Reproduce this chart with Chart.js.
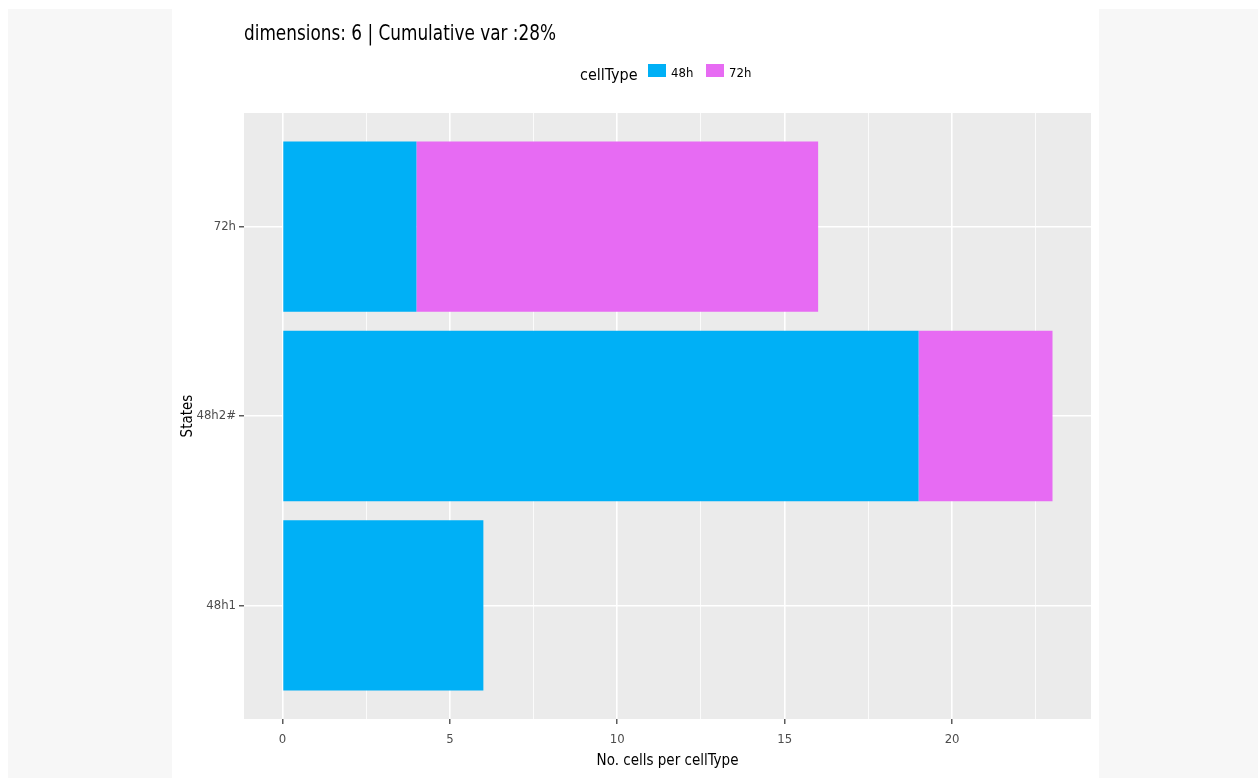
<!DOCTYPE html>
<html>
<head>
<meta charset="utf-8">
<title>dimensions: 6 | Cumulative var :28%</title>
<script src="https://cdn.jsdelivr.net/npm/chart.js@4/dist/chart.umd.min.js"></script>
<style>
  html, body { margin: 0; padding: 0; background: #ffffff; width: 1258px; height: 778px; overflow: hidden; }
  .side { position: absolute; top: 9px; bottom: 0; background: #f7f7f7; }
  #wrap { position: absolute; left: 172px; top: 0; width: 927px; height: 778px; background: #ffffff; }
</style>
</head>
<body>
<div class="side" style="left:8px;width:164px;"></div>
<div class="side" style="left:1099px;width:159px;"></div>
<div id="wrap"><canvas id="chart" width="927" height="778"></canvas></div>
<script>
// States shown on the vertical axis, bottom to top
const categories = ['48h1', '48h2#', '72h'];
// Cell counts per state, split by cell type
const cells48h = [6, 19, 4];
const cells72h = [0, 4, 12];
const seriesNames = ['48h', '72h'];
const seriesColors = ['#00B0F6', '#E76BF3'];
// Labelled ticks on the horizontal axis
const xTickLabels = [0, 5, 10, 15, 20];

const titleText = 'dimensions: 6 | Cumulative var :28%';
const legendTitle = 'cellType';
const FONT = "'Liberation Sans Narrow', 'DejaVu Sans Condensed', 'Liberation Sans', sans-serif";

const toPoints = vals => vals.map((v, i) => ({ x: v, y: i + 1 }));

const total = categories.map((c, i) => cells48h[i] + cells72h[i]);
const maxTotal = Math.max(...total);
const xPad = maxTotal * 0.05;

// Grey panel behind the plotting area
const panelBg = {
  id: 'panelBg',
  beforeDraw(chart) {
    const { ctx, chartArea: a } = chart;
    ctx.save();
    ctx.fillStyle = '#EBEBEB';
    ctx.fillRect(a.left, a.top, a.right - a.left, a.bottom - a.top);
    ctx.restore();
  }
};

// Plot title and the inline legend above the panel
const headings = {
  id: 'headings',
  afterDraw(chart) {
    const { ctx, chartArea: a } = chart;
    ctx.save();
    ctx.fillStyle = '#000000';
    ctx.textBaseline = 'alphabetic';
    ctx.textAlign = 'left';
    ctx.font = '21px ' + FONT;
    ctx.fillText(titleText, a.left, 40, 312);

    // legend: title followed by key boxes
    ctx.font = '16px ' + FONT;
    let x = 408;
    ctx.fillText(legendTitle, x, 80, 58);
    x += 58 + 10;
    ctx.font = '13px ' + FONT;
    chart.data.datasets.forEach(ds => {
      ctx.fillStyle = ds.backgroundColor;
      ctx.fillRect(x, 64, 18, 13);
      x += 18 + 5;
      ctx.fillStyle = '#000000';
      ctx.fillText(ds.label, x, 77, 25);
      x += 25 + 10;
    });
    ctx.restore();
  }
};

const isMajor = v => Math.abs(v % 5) < 1e-9;

new Chart(document.getElementById('chart'), {
  type: 'bar',
  data: {
    datasets: [
      { label: seriesNames[0], data: toPoints(cells48h), backgroundColor: seriesColors[0], borderWidth: 0 },
      { label: seriesNames[1], data: toPoints(cells72h), backgroundColor: seriesColors[1], borderWidth: 0 }
    ]
  },
  options: {
    indexAxis: 'y',
    responsive: false,
    animation: false,
    layout: { padding: { top: 113, right: 8, bottom: 0, left: 0 } },
    datasets: { bar: { barPercentage: 0.9, categoryPercentage: 1.0 } },
    plugins: {
      legend: { display: false },
      title: { display: false },
      tooltip: { enabled: false }
    },
    scales: {
      x: {
        type: 'linear',
        stacked: true,
        min: -xPad,
        max: maxTotal + xPad,
        afterBuildTicks(scale) {
          const t = [];
          for (let v = 0; v <= maxTotal + 1e-9; v += 2.5) t.push({ value: v });
          scale.ticks = t;
        },
        afterFit(scale) { scale.height = 59; },
        border: { display: false },
        grid: {
          color: '#FFFFFF',
          lineWidth: ctx => (isMajor(ctx.tick.value) ? 1.6 : 0.8),
          drawTicks: true,
          tickLength: 5,
          tickColor: ctx => (isMajor(ctx.tick.value) ? '#333333' : 'rgba(0,0,0,0)'),
          tickWidth: 1.2
        },
        ticks: {
          autoSkip: false,
          maxRotation: 0,
          padding: 8,
          color: '#4D4D4D',
          font: { family: FONT, size: 13 },
          callback: v => (xTickLabels.includes(v) ? String(v) : '')
        },
        title: {
          display: true,
          text: 'No. cells per cellType',
          color: '#000000',
          font: { family: FONT, size: 15 },
          padding: { top: 0, bottom: 8 }
        }
      },
      y: {
        type: 'linear',
        stacked: true,
        offset: false,
        min: 0.4,
        max: categories.length + 0.6,
        afterBuildTicks(scale) {
          scale.ticks = categories.map((c, i) => ({ value: i + 1 }));
        },
        afterFit(scale) { scale.width = 72; },
        border: { display: false },
        grid: {
          offset: false,
          color: '#FFFFFF',
          lineWidth: 1.6,
          drawTicks: true,
          tickLength: 5,
          tickColor: '#333333',
          tickWidth: 1.2
        },
        ticks: {
          autoSkip: false,
          padding: 3,
          color: '#4D4D4D',
          font: { family: FONT, size: 13 },
          callback: v => categories[Math.round(v) - 1] || ''
        },
        title: {
          display: true,
          text: 'States',
          color: '#000000',
          font: { family: FONT, size: 15 },
          padding: { top: 7, bottom: 0 }
        }
      }
    }
  },
  plugins: [panelBg, headings]
});
</script>
</body>
</html>
